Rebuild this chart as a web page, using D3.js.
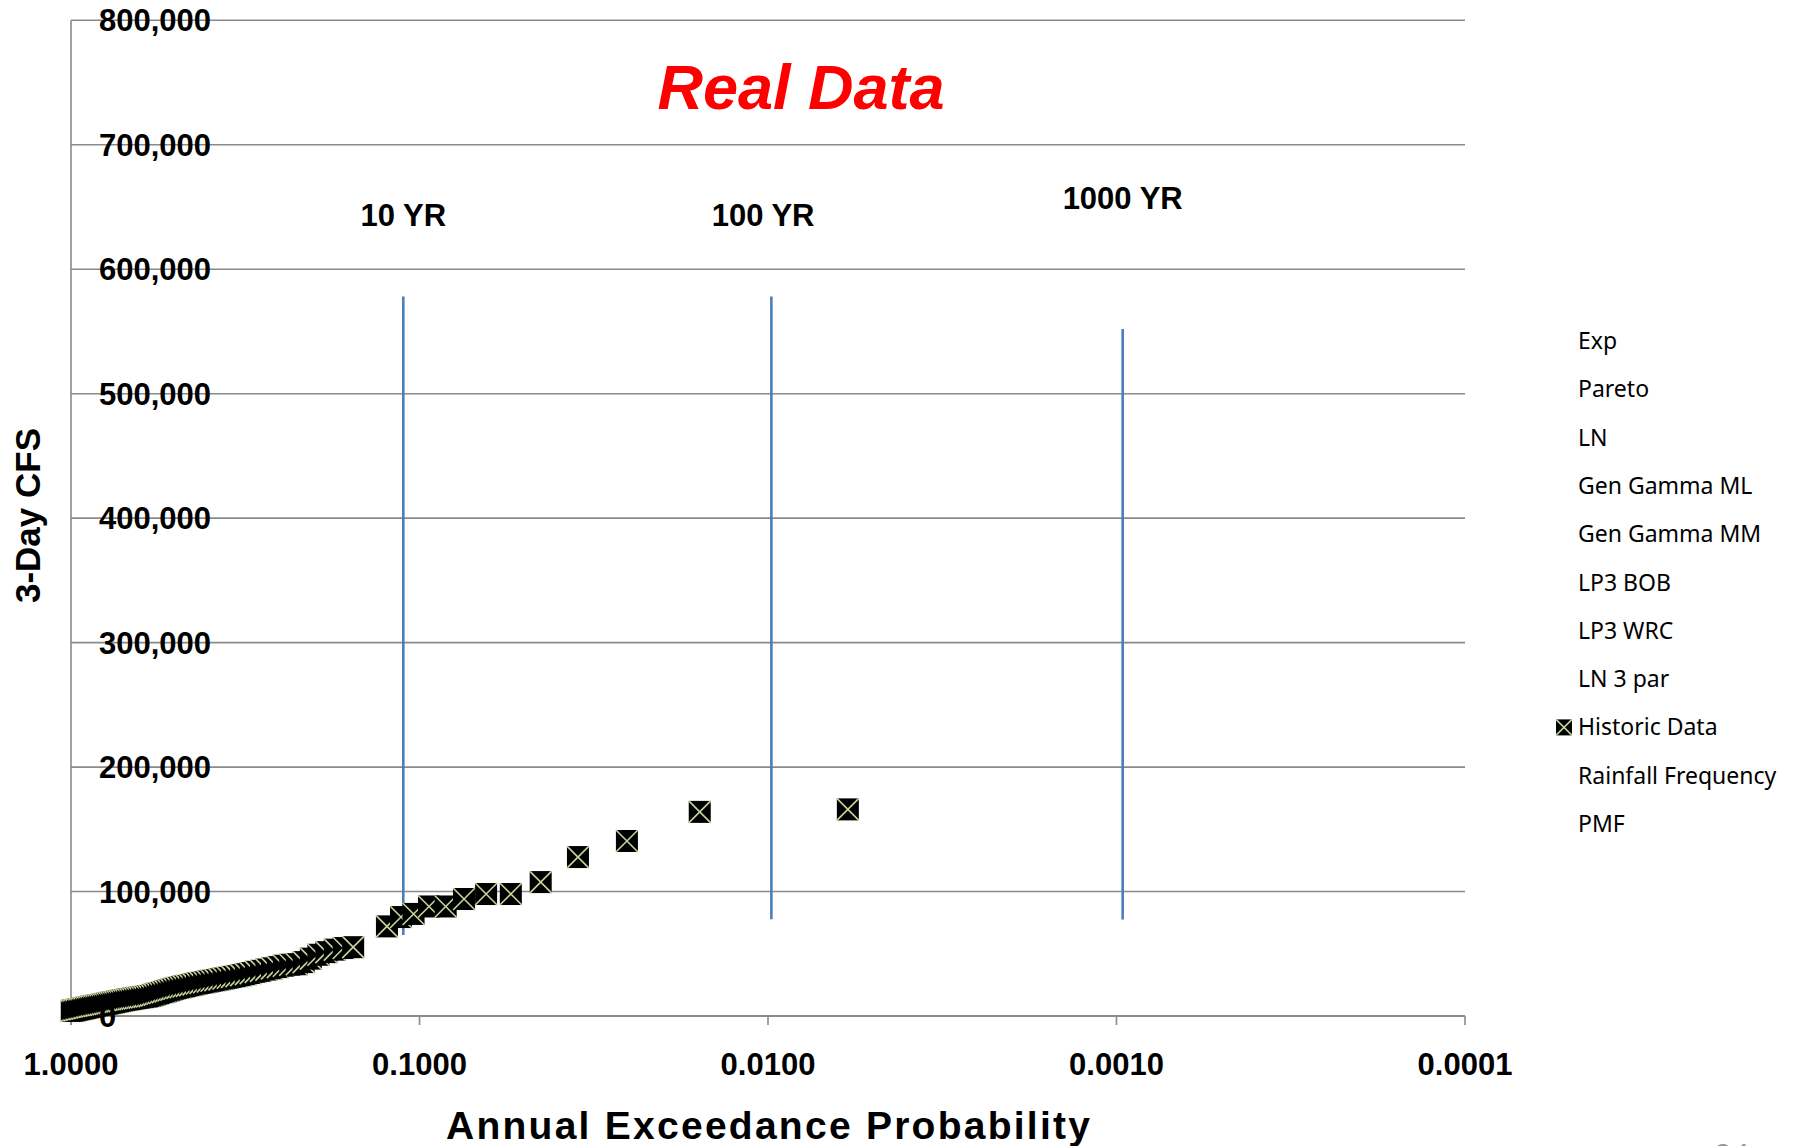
<!DOCTYPE html>
<html>
<head>
<meta charset="utf-8">
<script src="https://cdn.jsdelivr.net/npm/d3@7"></script>
<style>
  body { margin: 0; background: #fff; }
  svg { display: block; }
</style>
</head>
<body>
<svg id="chart"></svg>
<script>
// historic data: annual exceedance probability and 3-day flow (cfs)
var histP = [0.0059, 0.0157, 0.0254, 0.0351, 0.0449, 0.0547, 0.0644, 0.0745, 0.0841, 0.0939,
  0.104, 0.113, 0.124,
  0.155, 0.165, 0.175, 0.185, 0.195, 0.205, 0.215, 0.225, 0.235, 0.245,
  0.255, 0.265, 0.275, 0.285, 0.295, 0.305, 0.315, 0.325, 0.335, 0.345,
  0.355, 0.365, 0.375, 0.385, 0.395, 0.405, 0.415, 0.425, 0.435, 0.445,
  0.455, 0.465, 0.475, 0.485, 0.495, 0.505, 0.515, 0.525, 0.535, 0.545,
  0.555, 0.565, 0.575, 0.585, 0.595, 0.605, 0.615, 0.625, 0.635, 0.645,
  0.655, 0.665, 0.675, 0.685, 0.695, 0.705, 0.715, 0.725, 0.735, 0.745,
  0.755, 0.765, 0.775, 0.785, 0.795, 0.805, 0.815, 0.825, 0.835, 0.845,
  0.855, 0.865, 0.875, 0.885, 0.895, 0.905, 0.915, 0.925, 0.935, 0.945,
  0.955, 0.965, 0.975, 0.985, 0.995];
var histQ = [166000, 164000, 140600, 127700, 107600, 98000, 98000, 94000, 88000, 88000,
  82000, 79500, 72000,
  55300, 54600, 53300, 51300, 49200, 46100, 43300, 41600, 41200, 40400,
  39300, 38300, 37300, 36300, 35500, 34500, 33600, 32800, 32000, 31400,
  30700, 30100, 29400, 28800, 28300, 27700, 27100, 26600, 26100, 25400,
  24800, 24200, 23700, 23100, 22600, 21900, 21200, 20500, 19800, 19200,
  18500, 17900, 17200, 16600, 16000, 15700, 15400, 15100, 14800, 14500,
  14200, 13900, 13600, 13300, 13000, 12700, 12400, 12000, 11700, 11300,
  11000, 10700, 10400, 10000, 9700, 9400, 9100, 8800, 8600, 8300,
  8000, 7800, 7500, 7200, 6900, 6600, 6300, 6000, 5700, 5500,
  5200, 4900, 4600, 4400, 4100];

// return period marker lines
var rpNames = ["10 YR", "100 YR", "1000 YR"];
var rpP = [0.1113, 0.00978, 0.00096];
var rpTop = [578000, 578000, 552000];
var rpBottom = [65000, 77700, 77500];
var rpLabelP = [0.1113, 0.01033, 0.00096];
var rpLabelQ = [635000, 635000, 648000];

var xTicks = [1, 0.1, 0.01, 0.001, 0.0001];
var yTicks = [0, 100000, 200000, 300000, 400000, 500000, 600000, 700000, 800000];

var legendNames = ["Exp", "Pareto", "LN", "Gen Gamma ML", "Gen Gamma MM", "LP3 BOB",
  "LP3 WRC", "LN 3 par", "Historic Data", "Rainfall Frequency", "PMF"];

var width = 1802, height = 1146;
var pLeft = 71, pRight = 1465, pTop = 20.3, pBottom = 1016;

var svg = d3.select("#chart").attr("width", width).attr("height", height);

var x = d3.scaleLog().domain([1, 0.0001]).range([pLeft, pRight]);
var y = d3.scaleLinear().domain([0, 800000]).range([pBottom, pTop]);

var fmt = d3.format(",");

// gridlines
svg.append("g")
  .selectAll("line")
  .data(yTicks.slice(1))
  .enter()
  .append("line")
  .attr("x1", pLeft).attr("x2", pRight)
  .attr("y1", d => y(d)).attr("y2", d => y(d))
  .attr("stroke", "#8a8a8a")
  .attr("stroke-width", 1.6);

// axes lines
svg.append("line")
  .attr("x1", pLeft).attr("x2", pLeft)
  .attr("y1", pTop).attr("y2", pBottom + 9)
  .attr("stroke", "#8a8a8a").attr("stroke-width", 1.6);
svg.append("line")
  .attr("x1", pLeft).attr("x2", pRight)
  .attr("y1", pBottom).attr("y2", pBottom)
  .attr("stroke", "#8a8a8a").attr("stroke-width", 2);
svg.append("g")
  .selectAll("line")
  .data(xTicks)
  .enter()
  .append("line")
  .attr("x1", d => x(d)).attr("x2", d => x(d))
  .attr("y1", pBottom).attr("y2", pBottom + 9)
  .attr("stroke", "#8a8a8a").attr("stroke-width", 1.6);

// return period lines
svg.append("g")
  .selectAll("line")
  .data(rpP)
  .enter()
  .append("line")
  .attr("x1", d => x(d)).attr("x2", d => x(d))
  .attr("y1", (d, i) => y(rpTop[i]))
  .attr("y2", (d, i) => y(rpBottom[i]))
  .attr("stroke", "#4a7ebb")
  .attr("stroke-width", 2.6);

// historic data markers
var pts = histP.map((p, i) => ({p: p, q: histQ[i]}));
var ms = 11;
var mk = svg.append("g")
  .selectAll("g")
  .data(pts.slice().reverse())
  .enter()
  .append("g")
  .attr("transform", d => "translate(" + x(d.p) + "," + y(d.q) + ")");
mk.append("rect")
  .attr("x", -ms).attr("y", -ms)
  .attr("width", ms * 2).attr("height", ms * 2)
  .attr("fill", "#000");
mk.append("path")
  .attr("d", "M" + (-ms) + "," + (-ms) + "L" + ms + "," + ms + "M" + ms + "," + (-ms) + "L" + (-ms) + "," + ms)
  .attr("stroke", "#c3d69b")
  .attr("stroke-width", 1.6);

// y tick labels (inside plot)
svg.append("g")
  .selectAll("text")
  .data(yTicks)
  .enter()
  .append("text")
  .attr("x", 99)
  .attr("y", d => y(d))
  .attr("dy", "0.36em")
  .attr("font-family", "Liberation Sans, Arial, sans-serif")
  .attr("font-weight", "bold")
  .attr("font-size", 31)
  .attr("fill", "#000")
  .text(d => fmt(d));

// x tick labels
svg.append("g")
  .selectAll("text")
  .data(xTicks)
  .enter()
  .append("text")
  .attr("x", d => x(d))
  .attr("y", 1075)
  .attr("text-anchor", "middle")
  .attr("font-family", "Liberation Sans, Arial, sans-serif")
  .attr("font-weight", "bold")
  .attr("font-size", 31)
  .text(d => d.toFixed(4));

// return period labels
svg.append("g")
  .selectAll("text")
  .data(rpNames)
  .enter()
  .append("text")
  .attr("x", (d, i) => x(rpLabelP[i]))
  .attr("y", (d, i) => y(rpLabelQ[i]))
  .attr("text-anchor", "middle")
  .attr("font-family", "Liberation Sans, Arial, sans-serif")
  .attr("font-weight", "bold")
  .attr("font-size", 31)
  .text(d => d);

// title
svg.append("text")
  .attr("x", 801).attr("y", 109)
  .attr("text-anchor", "middle")
  .attr("font-family", "Liberation Sans, Arial, sans-serif")
  .attr("font-weight", "bold")
  .attr("font-style", "italic")
  .attr("font-size", 63)
  .attr("fill", "#ff0000")
  .text("Real Data");

// axis titles
svg.append("text")
  .attr("x", 768).attr("y", 1139)
  .attr("text-anchor", "middle")
  .attr("font-family", "Liberation Sans, Arial, sans-serif")
  .attr("font-weight", "bold")
  .attr("font-size", 39)
  .attr("textLength", 644)
  .attr("lengthAdjust", "spacing")
  .text("Annual Exceedance Probability");

svg.append("text")
  .attr("transform", "translate(40,515.5) rotate(-90)")
  .attr("text-anchor", "middle")
  .attr("font-family", "Liberation Sans, Arial, sans-serif")
  .attr("font-weight", "bold")
  .attr("font-size", 35)
  .text("3-Day CFS");

// legend
var lg = svg.append("g")
  .selectAll("g")
  .data(legendNames)
  .enter()
  .append("g")
  .attr("transform", (d, i) => "translate(1578," + (341 + i * 48.3) + ")");
lg.append("text")
  .attr("x", 0)
  .attr("dy", "0.35em")
  .attr("font-family", "Noto Sans, sans-serif")
  .attr("font-size", 23)
  .attr("fill", "#000")
  .text(d => d);
var lm = lg.filter(d => d === "Historic Data")
  .append("g")
  .attr("transform", "translate(-14,0)");
lm.append("rect")
  .attr("x", -8).attr("y", -8).attr("width", 16).attr("height", 16)
  .attr("fill", "#000");
lm.append("path")
  .attr("d", "M-8,-8L8,8M8,-8L-8,8")
  .attr("stroke", "#c3d69b").attr("stroke-width", 1.5);

// page number, cut off at the bottom
svg.append("text")
  .attr("x", 1732).attr("y", 1166)
  .attr("text-anchor", "middle")
  .attr("font-family", "Noto Sans, sans-serif")
  .attr("font-size", 30)
  .attr("fill", "#999")
  .text("24");
</script>
</body>
</html>
